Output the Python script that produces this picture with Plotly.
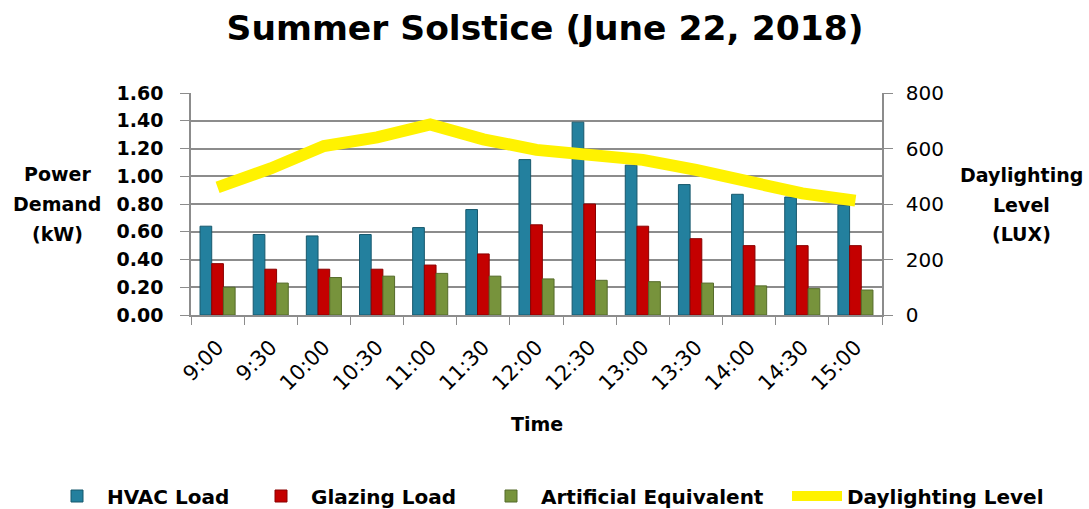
import plotly.graph_objects as go

times = ["9:00", "9:30", "10:00", "10:30", "11:00", "11:30", "12:00",
         "12:30", "13:00", "13:30", "14:00", "14:30", "15:00"]
hvac_load = [0.64, 0.58, 0.57, 0.58, 0.63, 0.76, 1.12, 1.39, 1.08, 0.94, 0.87, 0.85, 0.79]
glazing_load = [0.37, 0.33, 0.33, 0.33, 0.36, 0.44, 0.65, 0.80, 0.64, 0.55, 0.50, 0.50, 0.50]
artificial_equiv = [0.20, 0.23, 0.27, 0.28, 0.30, 0.28, 0.26, 0.25, 0.24, 0.23, 0.21, 0.19, 0.18]
daylighting_level = [460, 528, 609, 640, 687, 633, 595, 577, 559, 523, 484, 438, 412]

FONT = "DejaVu Sans"
GRID = "#8c8c8c"
W, H = 1089, 509
L, R, T, B = 191, 882, 93, 315   # plot area edges in pixels

fig = go.Figure()
fig.add_trace(go.Bar(x=times, y=hvac_load, name="HVAC Load", legend="legend",
                     marker=dict(color="#23809E", line=dict(color="#17586d", width=1))))
fig.add_trace(go.Bar(x=times, y=glazing_load, name="Glazing Load", legend="legend2",
                     marker=dict(color="#C40000", line=dict(color="#8a0000", width=1))))
fig.add_trace(go.Bar(x=times, y=artificial_equiv, name="Artificial Equivalent", legend="legend3",
                     marker=dict(color="#77933C", line=dict(color="#556b2a", width=1))))
fig.add_trace(go.Scatter(x=times, y=daylighting_level, name="Daylighting Level",
                         yaxis="y2", mode="lines", legend="legend4",
                         line=dict(color="#FFF200", width=12)))

leg_font = dict(size=20, family=FONT, weight="bold", color="black")
def leg(x):
    return dict(orientation="h", xref="container", yref="container",
                x=x / W, xanchor="left", y=1 - 496 / H, yanchor="middle",
                font=leg_font, itemwidth=50, bgcolor="rgba(0,0,0,0)")

fig.update_layout(
    width=W, height=H,
    margin=dict(l=L, r=W - R, t=T, b=H - B, autoexpand=False),
    paper_bgcolor="white", plot_bgcolor="white",
    font=dict(family=FONT, color="black"),
    title=dict(text="<b>Summer Solstice (June 22, 2018)</b>",
               x=545 / W, xref="container", xanchor="center",
               y=1 - 28 / H, yref="container", yanchor="middle",
               font=dict(size=34.5, family=FONT, color="black")),
    barmode="group", bargap=0.34, bargroupgap=0,
    xaxis=dict(
        type="category", tickson="boundaries", ticks="outside", ticklen=8,
        tickcolor=GRID, showline=True, linecolor=GRID, linewidth=1.5,
        tickangle=-45, tickfont=dict(size=21, family=FONT),
        ticklabelstandoff=10,
        showgrid=False, automargin=False,
    ),
    yaxis=dict(
        range=[0, 1.6], dtick=0.2, tickformat=".2f",
        showgrid=True, gridcolor=GRID, gridwidth=1.5,
        showline=True, linecolor=GRID, linewidth=1.5,
        ticks="outside", ticklen=9, tickcolor=GRID,
        tickfont=dict(size=19, family=FONT, weight="bold"),
        ticklabelstandoff=13,
        zeroline=False, automargin=False,
    ),
    yaxis2=dict(
        range=[0, 800], dtick=200, overlaying="y", side="right",
        showgrid=False, showline=True, linecolor=GRID, linewidth=1.5,
        ticks="outside", ticklen=9, tickcolor=GRID,
        tickfont=dict(size=20, family=FONT), ticklabelstandoff=9,
        zeroline=False, automargin=False,
    ),
    legend=leg(47), legend2=leg(251), legend3=leg(481), legend4=leg(787),
    showlegend=True,
)

def label(text, cx, cy, size):
    fig.add_annotation(text="<b>" + text + "</b>", xref="paper", yref="paper",
                       x=(cx - L) / (R - L), y=(B - cy) / (B - T),
                       xanchor="center", yanchor="middle", showarrow=False,
                       font=dict(size=size, family=FONT, color="black"))

for i, t in enumerate(["Power", "Demand", "(kW)"]):
    label(t, 57, 174 + 30 * i, 19)
for i, t in enumerate(["Daylighting", "Level", "(LUX)"]):
    label(t, 1021, 175 + 29.5 * i, 19)
label("Time", 537, 424, 19)

fig.write_html("out.html", config={"displayModeBar": False},
               post_script="document.body.style.margin='0px';")
